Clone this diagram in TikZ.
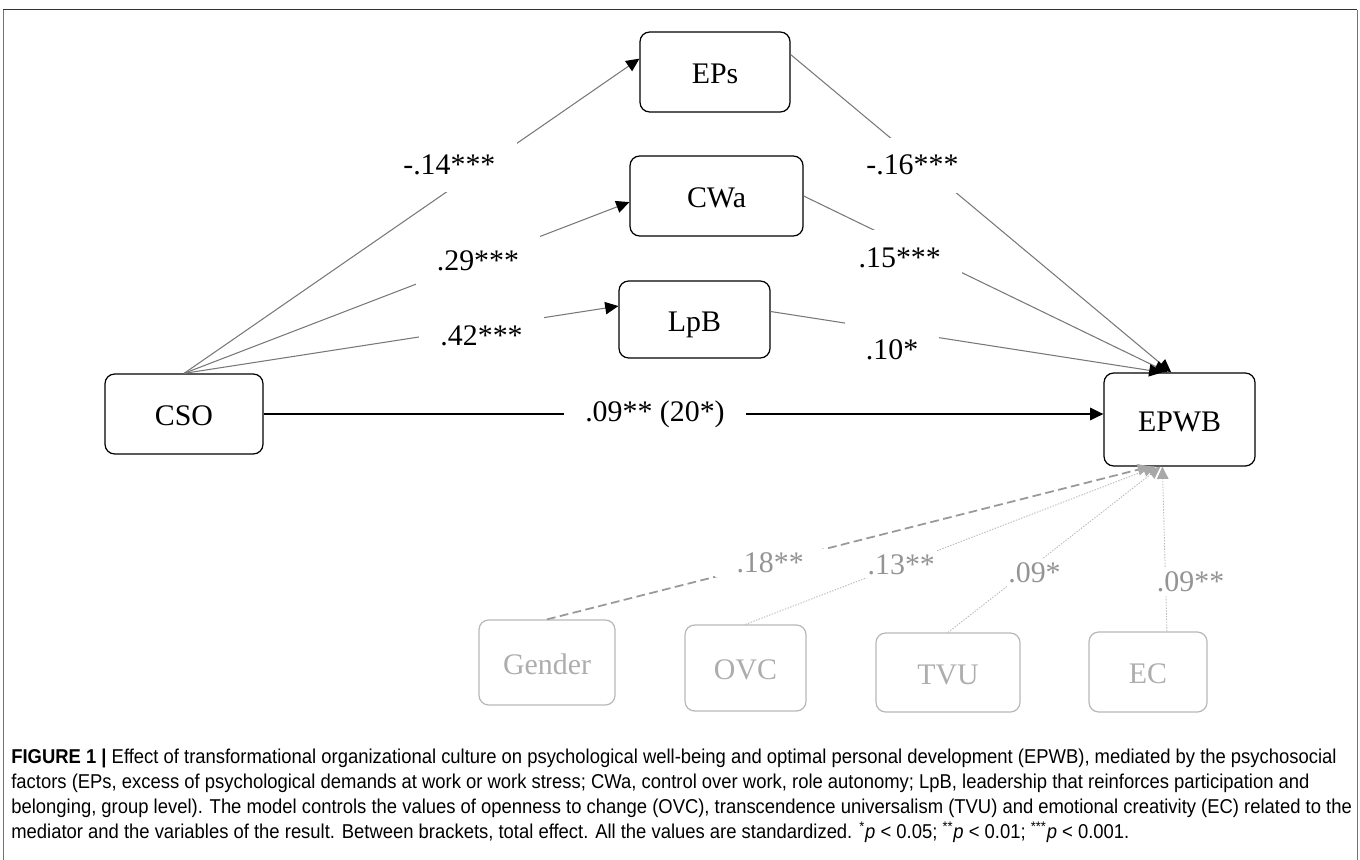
\documentclass[tikz,border=0pt]{standalone}
\usepackage{fontspec}
\setmainfont{Liberation Serif}
\setsansfont{Liberation Sans}[FakeStretch=0.92]
\usetikzlibrary{arrows.meta}

\definecolor{lnk}{gray}{0.47}
\definecolor{ctlline}{gray}{0.72}
\definecolor{ctltext}{gray}{0.68}
\definecolor{ctldash}{gray}{0.6}
\definecolor{ctllab}{gray}{0.58}
\definecolor{ctlhead}{gray}{0.66}

\begin{document}
\begin{tikzpicture}[
    x=0.2mm, y=-0.2mm,
    font=\fontsize{17}{20}\selectfont,
    var/.style      = {draw=black, rounded corners=5.5pt, line width=0.7pt, inner sep=0pt,
                       text height=1.55em, text depth=0.2em},
    ctrl/.style     = {var, draw=ctlline, text=ctltext},
    eff/.style      = {draw=lnk, line width=0.6pt, -{Triangle[length=7.5pt, width=7pt, color=black]}},
    direct/.style   = {draw=black, line width=1.2pt, -{Triangle[length=7.5pt, width=7pt]}},
    ctrldash/.style = {draw=ctldash, line width=1pt, dash pattern=on 5pt off 2.5pt,
                       -{Triangle[length=7pt, width=6.5pt, color=ctlhead]}},
    ctrldot/.style  = {draw=ctlline, line width=0.5pt, dash pattern=on 0.8pt off 0.8pt,
                       -{Triangle[length=7pt, width=6.5pt, color=ctlhead]}},
    coef/.style     = {fill=white, inner xsep=12pt, inner ysep=10pt},
    gcoef/.style    = {coef, text=ctllab, inner ysep=2pt}
  ]
  \useasboundingbox (0,0) rectangle (1360,860);

  % --- frame ---
  \draw[black!80, line width=1.1pt] (3,9.5) -- (1357,9.5);
  \draw[black!55, line width=0.5pt] (3,10) -- (3,860) (1357,10) -- (1357,860);

  % --- variables ---
  \node[var, minimum width=31.6mm, minimum height=16mm]   (CSO)  at (184,414)      {CSO};
  \node[var, minimum width=30mm,   minimum height=16mm]   (EPs)  at (715,72)       {EPs};
  \node[var, minimum width=34.6mm, minimum height=16mm]   (CWa)  at (716.5,196)    {CWa};
  \node[var, minimum width=30.2mm, minimum height=15.4mm] (LpB)  at (694.5,319.5)  {LpB};
  \node[var, minimum width=30.2mm, minimum height=18.6mm] (EPWB) at (1179.5,419.5) {EPWB};

  % --- controls ---
  \node[ctrl, minimum width=27.2mm, minimum height=17mm]   (gender) at (547,662.5) {Gender};
  \node[ctrl, minimum width=24.2mm, minimum height=17.2mm] (OVC)    at (745.5,668) {OVC};
  \node[ctrl, minimum width=28.8mm, minimum height=15.8mm] (TVU)    at (948,672.5) {TVU};
  \node[ctrl, minimum width=23.6mm, minimum height=16mm]   (EC)     at (1148,672)  {EC};

  % --- paths through the mediators ---
  \draw[eff] (CSO.north) -- node[coef, pos=0.664, xshift=-7.4mm] {-.14***} (EPs.170);
  \draw[eff] (CSO.north) -- node[coef, pos=0.66]                 {.29***}  (CWa.184);
  \draw[eff] (CSO.north) -- node[coef, pos=0.685, yshift=-1.8mm] {.42***}  (LpB.170);

  \draw[eff] (EPs.13)   -- node[coef, pos=0.32, yshift=-1.8mm]  {-.16***} (EPWB.100);
  \draw[eff] (CWa.east) -- node[coef, pos=0.264, yshift=-3mm]   {.15***}  (EPWB.104);
  \draw[eff] (LpB.6)    -- node[coef, pos=0.31, yshift=-3.8mm]  {.10*}    (EPWB.110);

  % --- direct effect ---
  \draw[direct] (CSO.east) -- node[coef, pos=0.466] {.09** (20*)} (CSO.east -| EPWB.west);

  % --- control variables ---
  \draw[ctrldash] (gender.north) -- node[gcoef, pos=0.37] {.18**} (EPWB.238);
  \draw[ctrldot]  (OVC.north)    -- node[gcoef, pos=0.38] {.13**} (EPWB.243);
  \draw[ctrldot]  (TVU.north)    -- node[gcoef, pos=0.36, xshift=2mm] {.09*}  (EPWB.248);
  \draw[ctrldot]  (EC.65)        -- node[gcoef, pos=0.3, xshift=5mm] {.09**} (EPWB.250);

  % --- caption ---
  \node[anchor=north west, align=left, inner sep=0pt,
        font=\sffamily\fontsize{11.4}{14.2}\selectfont] (caption) at (11,749)
    {\textbf{FIGURE 1 |} Effect of transformational organizational culture on psychological well-being and optimal personal development (EPWB), mediated by the psychosocial\\
     factors (EPs, excess of psychological demands at work or work stress; CWa, control over work, role autonomy; LpB, leadership that reinforces participation and\\
     belonging, group level). The model controls the values of openness to change (OVC), transcendence universalism (TVU) and emotional creativity (EC) related to the\\
     mediator and the variables of the result. Between brackets, total effect. All the values are standardized. \textsuperscript{*}\textit{p} {\textless} 0.05; \textsuperscript{**}\textit{p} {\textless} 0.01; \textsuperscript{***}\textit{p} {\textless} 0.001.};

\end{tikzpicture}
\end{document}
